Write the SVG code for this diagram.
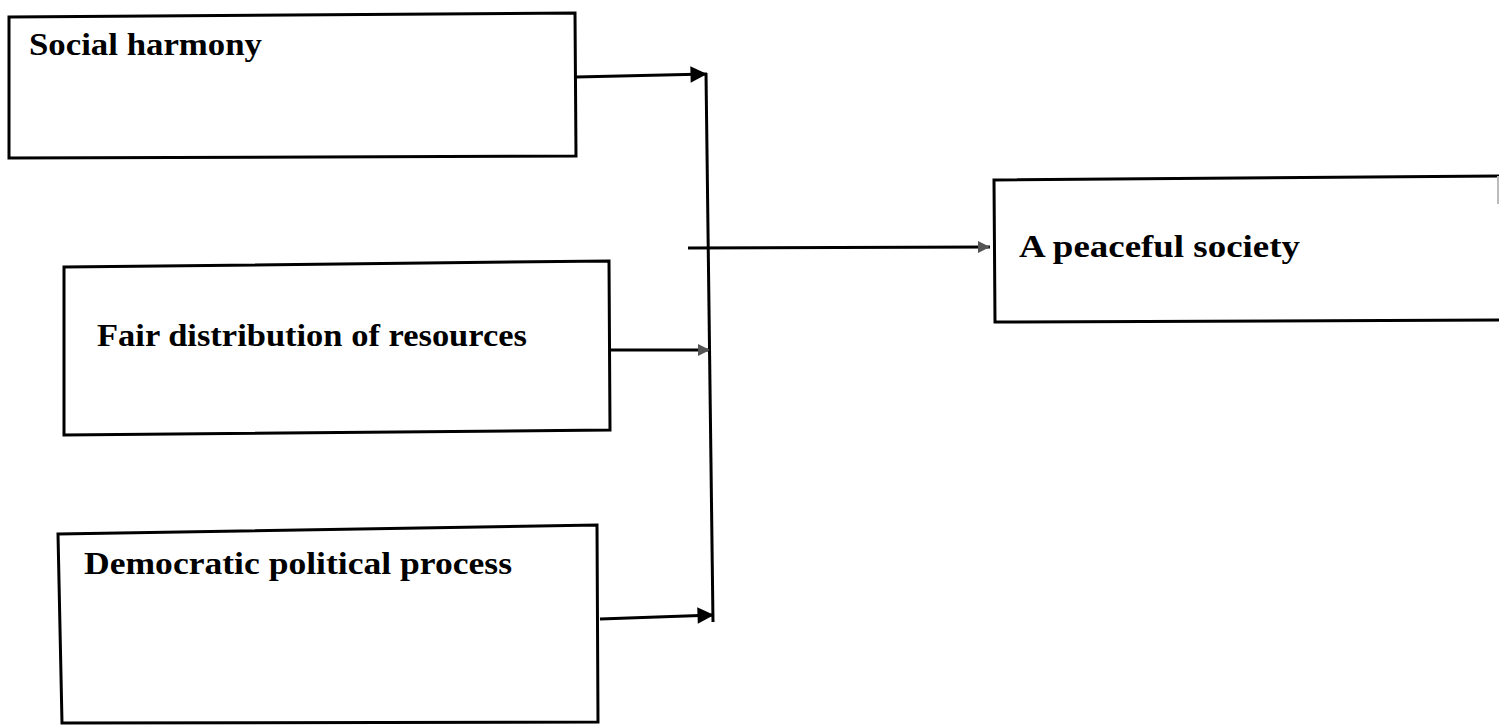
<svg xmlns="http://www.w3.org/2000/svg" width="1511" height="726" viewBox="0 0 1511 726">
<style>
.box{fill:none;stroke:#000;stroke-width:3;stroke-linejoin:miter}
.lbl{font-family:"Liberation Serif","Times New Roman",serif;font-weight:bold;font-size:31px;fill:#000}
.con{fill:none;stroke:#000;stroke-width:3}
</style>
<defs>
<marker id="ah" viewBox="0 0 10 10" refX="10" refY="5" markerWidth="7" markerHeight="5.5" markerUnits="strokeWidth" orient="auto">
<path d="M0,0 L10,5 L0,10 z" fill="#000"/>
</marker>
<marker id="ahs" viewBox="0 0 10 10" refX="10" refY="5" markerWidth="4" markerHeight="4" markerUnits="strokeWidth" orient="auto">
<path d="M0,0 L10,5 L0,10 z" fill="#555"/>
</marker>
</defs>
<rect width="1511" height="726" fill="#fff"/>
<g id="node-social">
<path class="box" d="M9,17 L575,13 L576,156 L9,158 Z"/>
<text class="lbl" x="29" y="55" textLength="233" lengthAdjust="spacingAndGlyphs">Social harmony</text>
</g>
<g id="node-fair">
<path class="box" d="M64,267 L609,261 L610,430 L64,435 Z"/>
<text class="lbl" x="97" y="346" textLength="430" lengthAdjust="spacingAndGlyphs">Fair distribution of resources</text>
</g>
<g id="node-democratic">
<path class="box" d="M58,534 L597,525 L598,722 L62,723 Z"/>
<text class="lbl" x="84" y="574" textLength="428" lengthAdjust="spacingAndGlyphs">Democratic political process</text>
</g>
<g id="node-peaceful">
<path class="box" d="M1499,176 L994,180 L995,322 L1499,320"/>
<line x1="1498" y1="176" x2="1498" y2="204" stroke="#bbb" stroke-width="2"/>
<text class="lbl" x="1019" y="257" textLength="281" lengthAdjust="spacingAndGlyphs">A peaceful society</text>
</g>
<g id="connectors">
<line class="con" x1="576" y1="77" x2="707" y2="74" marker-end="url(#ah)"/>
<line class="con" x1="706" y1="73" x2="713" y2="622"/>
<line class="con" x1="610" y1="350" x2="710" y2="350" marker-end="url(#ahs)"/>
<line class="con" x1="600" y1="619" x2="714" y2="615" marker-end="url(#ah)"/>
<line class="con" x1="688" y1="248" x2="990" y2="247" marker-end="url(#ahs)"/>
</g>
</svg>
